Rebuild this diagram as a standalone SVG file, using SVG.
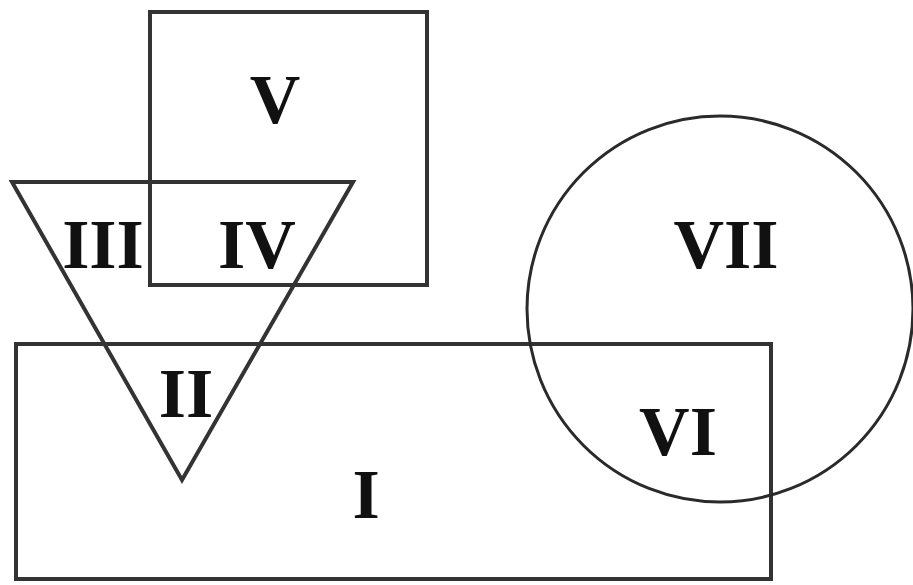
<svg xmlns="http://www.w3.org/2000/svg" width="913" height="585" viewBox="0 0 913 585">
<style>
.s{fill:none;stroke:#333;stroke-width:4}
.c{fill:none;stroke:#2a2a2a;stroke-width:3}
.t{font-family:"Liberation Serif","Times New Roman",serif;font-weight:bold;font-size:70px;fill:#111;text-anchor:middle}
</style>
<rect width="913" height="585" fill="#fff"/>
<g id="square-V"><rect class="s" x="150" y="12" width="277" height="273"/></g>
<g id="triangle"><polygon class="s" points="12,182 353,182 182,480"/></g>
<g id="rect-I"><rect class="s" x="16" y="344" width="755" height="235"/></g>
<g id="circle-VII"><circle class="c" cx="720" cy="309" r="193"/></g>
<g id="labels">
<text class="t" x="275" y="123">V</text>
<text class="t" x="103" y="268">III</text>
<text class="t" x="257" y="268">IV</text>
<text class="t" x="726" y="268">VII</text>
<text class="t" x="186" y="417">II</text>
<text class="t" x="678" y="455">VI</text>
<text class="t" x="366" y="518">I</text>
</g>
<g id="connectors"></g>
</svg>
